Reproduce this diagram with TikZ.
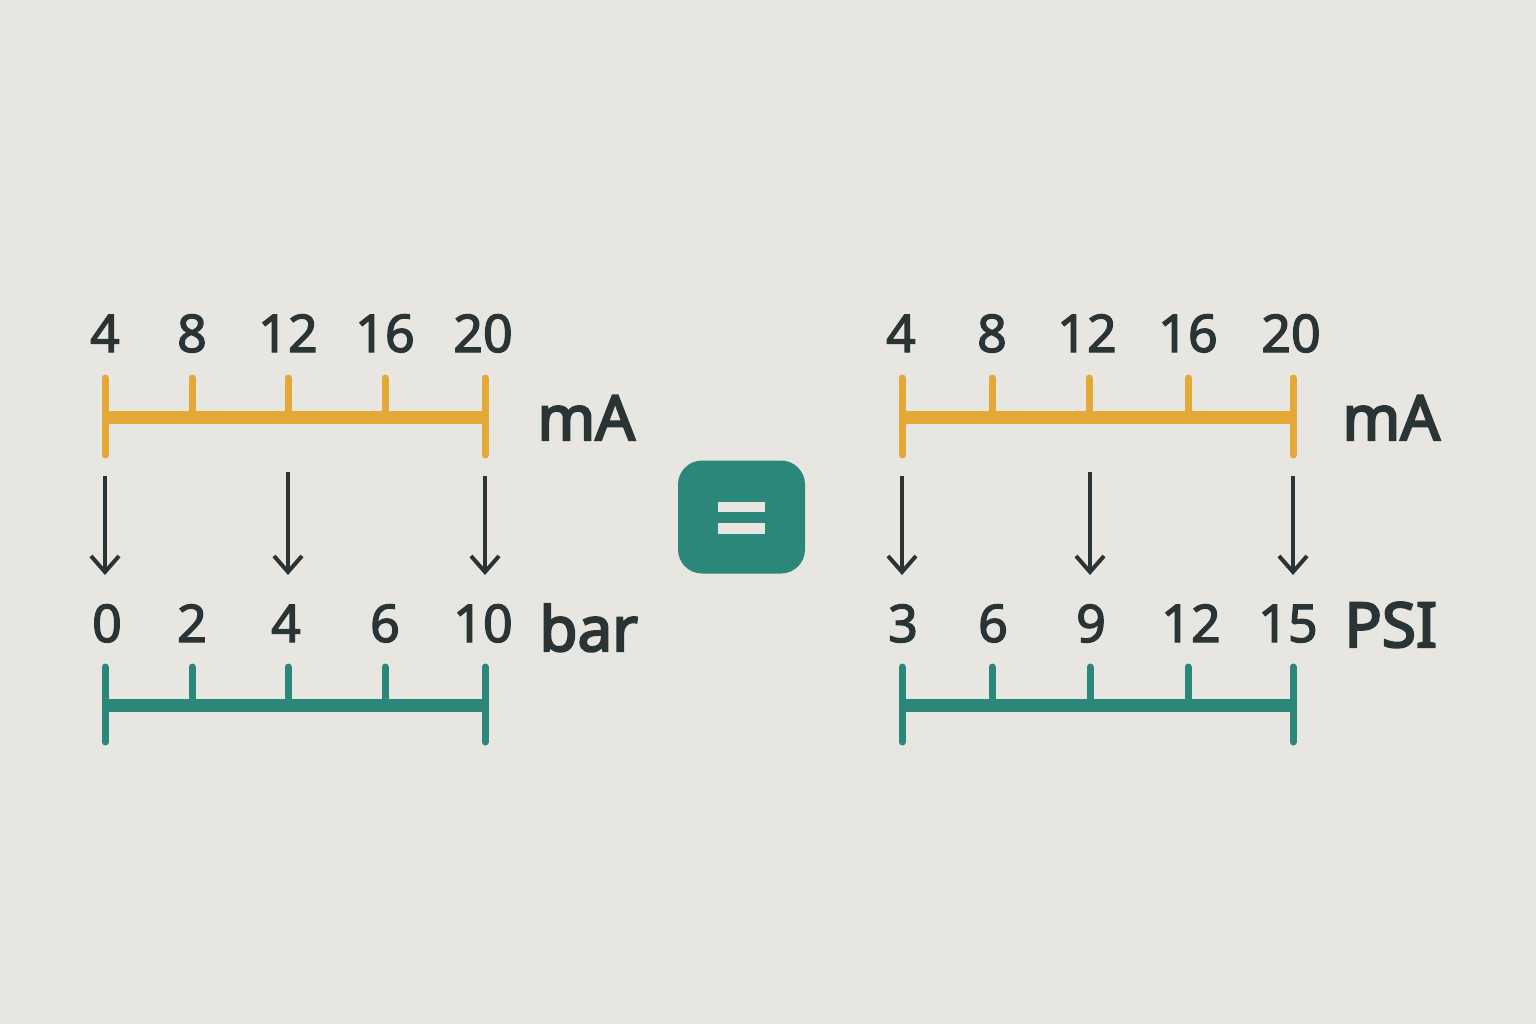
\documentclass[tikz,border=0pt]{standalone}
\usepackage{fontspec}
\setmainfont{Noto Sans}
\newfontfamily\numfont[FakeBold=2.5]{Noto Sans}
\newfontfamily\unitfont[FakeBold=3.5]{Noto Sans}
\usetikzlibrary{arrows.meta}
\definecolor{bgcol}{HTML}{E8E6E1}
\definecolor{amber}{HTML}{E3A835}
\definecolor{tealc}{HTML}{2C877B}
\definecolor{ink}{HTML}{2B3434}
\tikzset{
  rail/.style={line width=6.5pt},
  tk/.style={line width=3.5pt,line cap=round},
  num/.style={text=ink,inner sep=0pt,anchor=base,font=\numfont\fontsize{26}{26}\selectfont},
  unit/.style={text=ink,inner sep=0pt,anchor=base west,font=\unitfont\fontsize{31}{31}\selectfont},
  conv/.style={draw=ink,line width=2pt,-{Straight Barb[length=8pt,width=14pt]}},
}

\begin{document}
\begin{tikzpicture}[x=0.5pt,y=-0.5pt]
\fill[bgcol] (0,0) rectangle (1536,1024);
\useasboundingbox (0,0) rectangle (1536,1024);
% left: mA -> bar
\draw[rail,amber] (105,417) -- (485,417);
\draw[tk,amber] (105,378) -- (105,455); \draw[tk,amber] (485,378) -- (485,455);
\draw[tk,amber] (192,378) -- (192,417); \draw[tk,amber] (288,378) -- (288,417); \draw[tk,amber] (385,378) -- (385,417);
\node[num] (la4) at (105,352) {4};
\node[num] (la8) at (192,352) {8};
\node[num] (la12) at (288,352) {12};
\node[num] (la16) at (385,352) {16};
\node[num] (la20) at (483,352) {20};
\node[unit] (lma) at (537,440) {mA};
\coordinate (lu1) at (105,476); \coordinate (ld1) at (105,575);
\coordinate (lu2) at (288,472); \coordinate (ld2) at (288,575);
\coordinate (lu3) at (485,476); \coordinate (ld3) at (485,575);
\draw[conv] (lu1) -- (ld1); \draw[conv] (lu2) -- (ld2); \draw[conv] (lu3) -- (ld3);
\node[num] (lb0) at (107,642) {0};
\node[num] (lb2) at (192,642) {2};
\node[num] (lb4) at (286,642) {4};
\node[num] (lb6) at (385,642) {6};
\node[num] (lb10) at (483,642) {10};
\node[unit] (lbar) at (539,651) {bar};
\draw[rail,tealc] (105,705) -- (485,705);
\draw[tk,tealc] (105,667) -- (105,742); \draw[tk,tealc] (485,667) -- (485,742);
\draw[tk,tealc] (192,667) -- (192,705); \draw[tk,tealc] (288,667) -- (288,705); \draw[tk,tealc] (385,667) -- (385,705);
% equals sign
\node[fill=tealc,rounded corners=12pt,minimum width=63.5pt,minimum height=56.5pt] (eq) at (741.5,517) {};
\fill[bgcol] (718,502) rectangle (765,512);
\fill[bgcol] (718,523) rectangle (765,534);
% right: mA -> PSI
\draw[rail,amber] (902,417) -- (1293,417);
\draw[tk,amber] (902,378) -- (902,455); \draw[tk,amber] (1293,378) -- (1293,455);
\draw[tk,amber] (992,378) -- (992,417); \draw[tk,amber] (1089,378) -- (1089,417); \draw[tk,amber] (1188,378) -- (1188,417);
\node[num] (ra4) at (901,352) {4};
\node[num] (ra8) at (992,352) {8};
\node[num] (ra12) at (1087,352) {12};
\node[num] (ra16) at (1188,352) {16};
\node[num] (ra20) at (1291,352) {20};
\node[unit] (rma) at (1342,440) {mA};
\coordinate (ru1) at (902,476); \coordinate (rd1) at (902,575);
\coordinate (ru2) at (1090,472); \coordinate (rd2) at (1090,575);
\coordinate (ru3) at (1293,476); \coordinate (rd3) at (1293,575);
\draw[conv] (ru1) -- (rd1); \draw[conv] (ru2) -- (rd2); \draw[conv] (ru3) -- (rd3);
\node[num] (rp3) at (903,642) {3};
\node[num] (rp6) at (993,642) {6};
\node[num] (rp9) at (1091,642) {9};
\node[num] (rp12) at (1191,642) {12};
\node[num] (rp15) at (1288,642) {15};
\node[unit] (rpsi) at (1344,647) {PSI};
\draw[rail,tealc] (902,705) -- (1293,705);
\draw[tk,tealc] (902,667) -- (902,742); \draw[tk,tealc] (1293,667) -- (1293,742);
\draw[tk,tealc] (992,667) -- (992,705); \draw[tk,tealc] (1090,667) -- (1090,705); \draw[tk,tealc] (1188,667) -- (1188,705);
\end{tikzpicture}
\end{document}
